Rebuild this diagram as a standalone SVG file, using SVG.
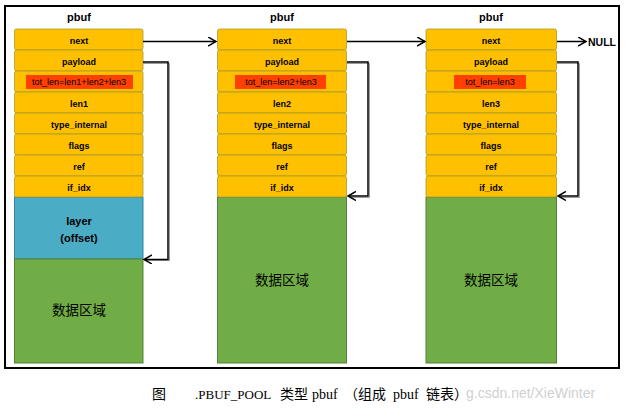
<svg xmlns="http://www.w3.org/2000/svg" width="626" height="410" viewBox="0 0 626 410">
<defs>
<marker id="arr" markerWidth="11" markerHeight="11" refX="8" refY="4.5" orient="auto" markerUnits="userSpaceOnUse">
<path d="M0,0 L8,4.5 L0,9" fill="none" stroke="#000" stroke-width="1.5"/>
</marker>
<style>
.row{fill:#FFC000;stroke:#A89A2C;stroke-width:0.8}
.lbl{font-family:"Liberation Sans",Arial,sans-serif;font-weight:bold;font-size:9px;fill:#000;text-anchor:middle}
.ttl{font-family:"Liberation Sans",Arial,sans-serif;font-weight:bold;font-size:11px;fill:#000;text-anchor:middle}
.red{fill:#FF4000}
.grn{fill:#70AD47;stroke:#548235;stroke-width:1}
.blu{fill:#4BACC6;stroke:#31859C;stroke-width:1}
.cjk{font-family:"Noto Sans CJK SC",sans-serif;font-size:13.5px;fill:#000;text-anchor:middle}
.ln{fill:none;stroke:#000;stroke-width:1.5}
.sh{fill:none;stroke:#9a9a9a;stroke-width:1}
.cap{font-family:"Liberation Serif","Noto Sans CJK SC",serif;font-size:14px;fill:#000}
.capc{font-family:"Noto Sans CJK SC",sans-serif;font-size:14px;fill:#000}
</style>
</defs>
<rect width="626" height="410" fill="#fff"/>
<rect x="5" y="6" width="614" height="362" fill="none" stroke="#000" stroke-width="2"/>

<g id="pbuf1">
<text class="ttl" x="79" y="21">pbuf</text>
<rect class="blu" x="14.5" y="197" width="128.5" height="62"/>
<rect class="grn" x="14.5" y="259" width="128.5" height="104"/>
<rect class="row" x="14.5" y="29" width="128.5" height="21" rx="2"/>
<rect class="row" x="14.5" y="50" width="128.5" height="21" rx="2"/>
<rect class="row" x="14.5" y="71" width="128.5" height="21" rx="2"/>
<rect class="row" x="14.5" y="92" width="128.5" height="21" rx="2"/>
<rect class="row" x="14.5" y="113" width="128.5" height="21" rx="2"/>
<rect class="row" x="14.5" y="134" width="128.5" height="21" rx="2"/>
<rect class="row" x="14.5" y="155" width="128.5" height="21" rx="2"/>
<rect class="row" x="14.5" y="176" width="128.5" height="21" rx="2"/>
<rect class="red" x="26" y="75" width="107" height="14"/>
<text class="lbl" x="79" y="44">next</text>
<text class="lbl" x="79" y="65">payload</text>
<text class="lbl" x="79" y="85" style="font-weight:normal">tot_len=len1+len2+len3</text>
<text class="lbl" x="79" y="107">len1</text>
<text class="lbl" x="79" y="128">type_internal</text>
<text class="lbl" x="79" y="149">flags</text>
<text class="lbl" x="79" y="170">ref</text>
<text class="lbl" x="79" y="191">if_idx</text>
<text class="ttl" x="79" y="225">layer</text>
<text class="ttl" x="79" y="242">(offset)</text>
<text class="cjk" x="79" y="315">数据区域</text>
</g>

<g id="pbuf2">
<text class="ttl" x="282" y="21">pbuf</text>
<rect class="grn" x="217.5" y="197" width="129" height="166"/>
<rect class="row" x="217.5" y="29" width="129" height="21" rx="2"/>
<rect class="row" x="217.5" y="50" width="129" height="21" rx="2"/>
<rect class="row" x="217.5" y="71" width="129" height="21" rx="2"/>
<rect class="row" x="217.5" y="92" width="129" height="21" rx="2"/>
<rect class="row" x="217.5" y="113" width="129" height="21" rx="2"/>
<rect class="row" x="217.5" y="134" width="129" height="21" rx="2"/>
<rect class="row" x="217.5" y="155" width="129" height="21" rx="2"/>
<rect class="row" x="217.5" y="176" width="129" height="21" rx="2"/>
<rect class="red" x="235" y="75" width="91" height="14"/>
<text class="lbl" x="282" y="44">next</text>
<text class="lbl" x="282" y="65">payload</text>
<text class="lbl" x="281" y="85" style="font-weight:normal">tot_len=len2+len3</text>
<text class="lbl" x="282" y="107">len2</text>
<text class="lbl" x="282" y="128">type_internal</text>
<text class="lbl" x="282" y="149">flags</text>
<text class="lbl" x="282" y="170">ref</text>
<text class="lbl" x="282" y="191">if_idx</text>
<text class="cjk" x="282" y="285">数据区域</text>
</g>

<g id="pbuf3">
<text class="ttl" x="491" y="21">pbuf</text>
<rect class="grn" x="426" y="197" width="130.5" height="166"/>
<rect class="row" x="426" y="29" width="130.5" height="21" rx="2"/>
<rect class="row" x="426" y="50" width="130.5" height="21" rx="2"/>
<rect class="row" x="426" y="71" width="130.5" height="21" rx="2"/>
<rect class="row" x="426" y="92" width="130.5" height="21" rx="2"/>
<rect class="row" x="426" y="113" width="130.5" height="21" rx="2"/>
<rect class="row" x="426" y="134" width="130.5" height="21" rx="2"/>
<rect class="row" x="426" y="155" width="130.5" height="21" rx="2"/>
<rect class="row" x="426" y="176" width="130.5" height="21" rx="2"/>
<rect class="red" x="454" y="75" width="72" height="14"/>
<text class="lbl" x="491" y="44">next</text>
<text class="lbl" x="491" y="65">payload</text>
<text class="lbl" x="490" y="85" style="font-weight:normal">tot_len=len3</text>
<text class="lbl" x="491" y="107">len3</text>
<text class="lbl" x="491" y="128">type_internal</text>
<text class="lbl" x="491" y="149">flags</text>
<text class="lbl" x="491" y="170">ref</text>
<text class="lbl" x="491" y="191">if_idx</text>
<text class="cjk" x="491" y="285">数据区域</text>
</g>

<g id="connectors">
<polyline class="sh" points="143,63.5 169.5,63.5 169.5,260.5 147,260.5"/>
<polyline class="ln" points="143,62 168,62 168,259.5 144,259.5" marker-end="url(#arr)"/>
<polyline class="sh" points="347,63.5 369.5,63.5 369.5,197.5 351,197.5"/>
<polyline class="ln" points="347,62 368,62 368,196 348,196" marker-end="url(#arr)"/>
<polyline class="sh" points="557,63.5 579.5,63.5 579.5,197.5 561,197.5"/>
<polyline class="ln" points="557,62 578,62 578,196 558,196" marker-end="url(#arr)"/>
<line class="ln" x1="143" y1="41.5" x2="216" y2="41.5" marker-end="url(#arr)"/>
<line class="ln" x1="347" y1="41.5" x2="425" y2="41.5" marker-end="url(#arr)"/>
<line class="ln" x1="557" y1="41.5" x2="586" y2="41.5" marker-end="url(#arr)"/>
</g>
<text x="588" y="45.5" style="font-family:'Liberation Sans',Arial,sans-serif;font-weight:bold;font-size:10.5px">NULL</text>

<text class="capc" x="152" y="399">图</text>
<text class="cap" x="195" y="399" style="font-size:13px">.PBUF_POOL</text>
<text class="capc" x="280" y="399">类型</text>
<text class="cap" x="312" y="399">pbuf</text>
<text class="capc" x="344" y="399">（组成</text>
<text class="cap" x="393" y="399">pbuf</text>
<text class="capc" x="426" y="399">链表）</text>
<text x="466" y="398" style="font-family:'Liberation Sans',Arial,sans-serif;font-size:14px;fill:#d0d0d0">g.csdn.net/XieWinter</text>
</svg>
